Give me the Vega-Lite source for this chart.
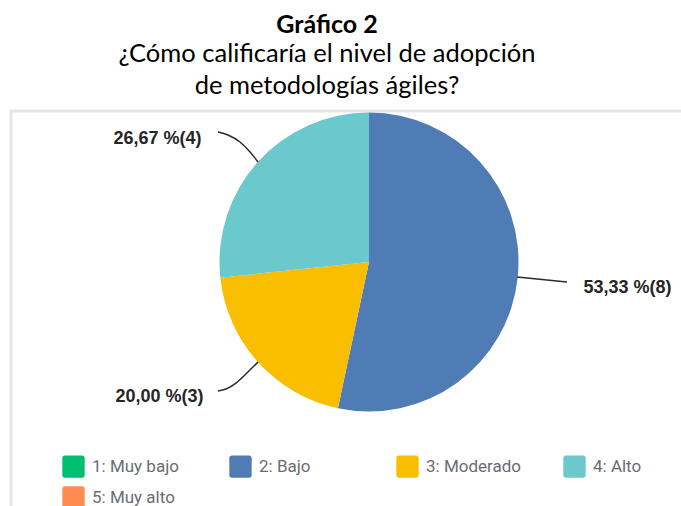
{
  "$schema": "https://vega.github.io/schema/vega-lite/v6.json",
  "autosize": {"type": "none"},
  "width": 674,
  "height": 399,
  "padding": {"left": 11, "top": 111, "right": -4, "bottom": -4},
  "background": "white",
  "config": {
    "view": {"stroke": "#e6e6e6", "strokeWidth": 3},
    "axis": {"grid": false}
  },
  "title": {
    "text": "Gráfico 2",
    "subtitle": ["¿Cómo calificaría el nivel de adopción", "de metodologías ágiles?"],
    "anchor": "middle",
    "dx": -21,
    "offset": 12,
    "font": "Lato",
    "fontSize": 25,
    "fontWeight": "bold",
    "color": "#000000",
    "subtitleFont": "Lato",
    "subtitleFontSize": 25.5,
    "subtitleFontWeight": "normal",
    "subtitleColor": "#000000",
    "subtitleLineHeight": 32,
    "subtitlePadding": 4
  },
  "datasets": {
    "respuestas": [
      {"respuesta": "1: Muy bajo", "n": 0},
      {"respuesta": "2: Bajo", "n": 8},
      {"respuesta": "3: Moderado", "n": 3},
      {"respuesta": "4: Alto", "n": 4},
      {"respuesta": "5: Muy alto", "n": 0}
    ],
    "etiquetas": [
      {"etiqueta": "53,33 %(8)", "tx": 1.723, "ty": -0.173},
      {"etiqueta": "26,67 %(4)", "tx": -1.41, "ty": 0.82},
      {"etiqueta": "20,00 %(3)", "tx": -1.397, "ty": -0.9}
    ],
    "guias": [
      {"g": "Bajo", "gx": 0.987, "gy": -0.1},
      {"g": "Bajo", "gx": 1.32, "gy": -0.133},
      {"g": "Alto", "gx": -1.007, "gy": 0.867},
      {"g": "Alto", "gx": -0.94, "gy": 0.847},
      {"g": "Alto", "gx": -0.86, "gy": 0.8},
      {"g": "Alto", "gx": -0.793, "gy": 0.733},
      {"g": "Alto", "gx": -0.74, "gy": 0.667},
      {"g": "Moderado", "gx": -1.007, "gy": -0.86},
      {"g": "Moderado", "gx": -0.953, "gy": -0.847},
      {"g": "Moderado", "gx": -0.887, "gy": -0.807},
      {"g": "Moderado", "gx": -0.807, "gy": -0.733},
      {"g": "Moderado", "gx": -0.74, "gy": -0.667}
    ]
  },
  "layer": [
    {
      "data": {"name": "respuestas"},
      "mark": {"type": "arc", "outerRadius": 149.5},
      "encoding": {
        "x": {"datum": 0, "type": "quantitative", "scale": {"domain": [-2.38667, 2.10667], "nice": false, "zero": false}, "axis": null},
        "y": {"datum": 0, "type": "quantitative", "scale": {"domain": [-1.65333, 1.00667], "nice": false, "zero": false}, "axis": null},
        "theta": {"field": "n", "type": "quantitative", "stack": true},
        "color": {
          "field": "respuesta",
          "type": "nominal",
          "scale": {
            "domain": ["1: Muy bajo", "2: Bajo", "3: Moderado", "4: Alto", "5: Muy alto"],
            "range": ["#00BF6F", "#507CB6", "#F9BE00", "#6BC8CD", "#FF8B4F"]
          },
          "legend": {
            "orient": "none",
            "direction": "horizontal",
            "legendX": 51,
            "legendY": 344,
            "title": null,
            "columns": 4,
            "gridAlign": "all",
            "columnPadding": 42,
            "rowPadding": 8,
            "padding": 0,
            "symbolType": "M-0.75,-1 L0.75,-1 Q1,-1 1,-0.75 L1,0.75 Q1,1 0.75,1 L-0.75,1 Q-1,1 -1,0.75 L-1,-0.75 Q-1,-1 -0.75,-1 Z",
            "symbolSize": 500,
            "symbolStrokeWidth": 0,
            "symbolOpacity": 1,
            "labelFont": "Roboto",
            "labelFontSize": 17,
            "labelColor": "#6b6c72",
            "labelOffset": 7,
            "labelLimit": 0
          }
        }
      }
    },
    {
      "data": {"name": "guias"},
      "mark": {"type": "line", "interpolate": "monotone", "color": "#2b2b2b", "strokeWidth": 1.5},
      "encoding": {
        "x": {"field": "gx", "type": "quantitative", "scale": {"domain": [-2.38667, 2.10667], "nice": false, "zero": false}, "axis": null},
        "y": {"field": "gy", "type": "quantitative", "scale": {"domain": [-1.65333, 1.00667], "nice": false, "zero": false}, "axis": null},
        "detail": {"field": "g"}
      }
    },
    {
      "data": {"name": "etiquetas"},
      "mark": {"type": "text", "font": "Liberation Sans", "fontWeight": "bold", "fontSize": 18, "color": "#262626", "align": "center", "baseline": "middle"},
      "encoding": {
        "x": {"field": "tx", "type": "quantitative", "scale": {"domain": [-2.38667, 2.10667], "nice": false, "zero": false}, "axis": null},
        "y": {"field": "ty", "type": "quantitative", "scale": {"domain": [-1.65333, 1.00667], "nice": false, "zero": false}, "axis": null},
        "text": {"field": "etiqueta"}
      }
    }
  ]
}
